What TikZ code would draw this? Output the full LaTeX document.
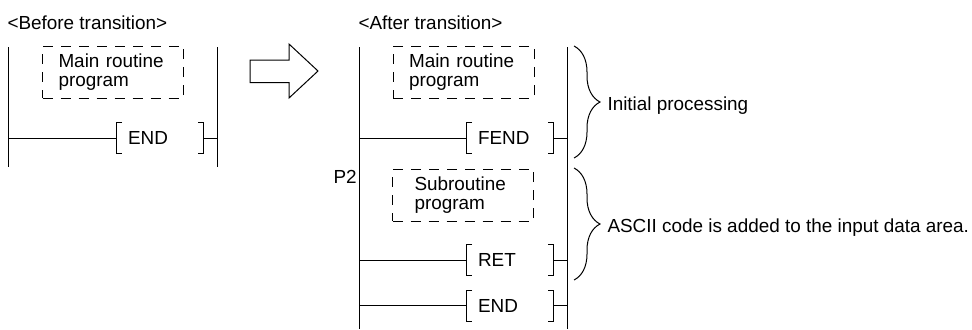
\documentclass[tikz,border=0pt]{standalone}
\usepackage{fontspec}
\setmainfont{Liberation Sans}
\usetikzlibrary{calc,decorations.pathreplacing}

\begin{document}
\begin{tikzpicture}[line cap=butt,line join=miter,x=0.5pt,y=-0.5pt,line width=0.5pt,
  every node/.style={font=\fontsize{9.45}{9.5}\selectfont},
  lbl/.style={anchor=base west,inner sep=0pt},
  progbox/.style={draw,dash pattern=on 5pt off 4pt,minimum width=70.5pt,minimum height=26pt,
    text width=54.5pt,inner xsep=8pt,inner ysep=0pt,align=left},
  instbox/.style={minimum height=15pt,text width=32pt,inner xsep=5.5pt,inner ysep=0pt,align=left},
  bracebar/.style={decorate,decoration={brace,amplitude=13pt}}]
\useasboundingbox (0,0) rectangle (972,329);
% before transition
\node[lbl] (titleL) at (7,29) {<Before transition>};
\coordinate (lA) at (8.5,47);
\coordinate (rA) at (217,47);
\draw (lA) -- ++(0,120);
\draw (rA) -- ++(0,120);
\node[progbox] (mainL) at (113,72) {Main routine\\program};
\node[instbox] (endL) at (160,138) {END};
% hollow arrow
\draw (250,60) -- (289,60) -- (289,44) -- (318,71) -- (289,98) -- (289,82.5) -- (250,82.5) -- cycle;
% after transition
\node[lbl] (titleR) at (358,29) {<After transition>};
\coordinate (lB) at (359,47);
\coordinate (rB) at (567,47);
\draw (lB) -- (lB |- 0,329);
\draw (rB) -- (rB |- 0,329);
\node[progbox] (mainR) at (463.5,72) {Main routine\\program};
\node[instbox] (fendR) at (510,138) {FEND};
\node[lbl] (p2) at (333,183) {P2};
\node[progbox,inner xsep=11pt,text width=48.5pt] (subR) at (463,195) {Subroutine\\program};
\node[instbox] (retR) at (510,260) {RET};
\node[instbox] (endR) at (510,305.5) {END};
% brackets and rungs
\foreach \n/\l/\r in {endL/lA/rA,fendR/lB/rB,retR/lB/rB,endR/lB/rB}
{
\draw ($(\n.north west)+(5.5,0)$) -- (\n.north west) -- (\n.south west) -- ++(5.5,0)
      ($(\n.north east)+(-5.5,0)$) -- (\n.north east) -- (\n.south east) -- ++(-5.5,0);
\draw (\l |- \n.west) -- (\n.west) (\n.east) -- (\r |- \n.east);
}
% braces
\coordinate (bA1) at (574,46);
\coordinate (bA2) at (574,158);
\coordinate (bB1) at (574,168);
\coordinate (bB2) at (574,280);
\draw[bracebar] (bA1) -- (bA2);
\draw[bracebar] (bB1) -- (bB2);
\node[anchor=west,inner sep=0pt] (initp) at (607,106) {Initial processing};
\node[anchor=west,inner sep=0pt] (ascii) at (607,228) {ASCII code is added to the input data area.};
\end{tikzpicture}
\end{document}
